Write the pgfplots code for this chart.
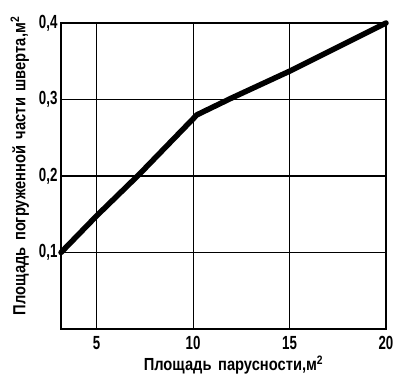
\documentclass[border=0pt]{standalone}
\usepackage{fontspec}
\setmainfont[FakeStretch=0.84, WordSpace=1.6]{Liberation Sans}
\newfontfamily\tickfont[FakeStretch=0.7]{Liberation Sans}
\usepackage{pgfplots}
\pgfplotsset{compat=1.18}
\begin{document}
\begin{tikzpicture}
\begin{axis}[
  scale only axis,
  width=325pt, height=306pt,
  xmin=3.15, xmax=20, ymin=0, ymax=0.4,
  xtick={5,10,15,20}, ytick={0.1,0.2,0.3,0.4},
  yticklabels={{0,1},{0,2},{0,3},{0,4}},
  grid=major,
  major grid style={black, line width=1.1pt},
  axis line style={black, line width=1.5pt},
  major tick length=0pt,
  tick label style={font=\tickfont\fontsize{19}{21}\selectfont\bfseries},
  xticklabel style={yshift=-4pt},
  yticklabel style={xshift=0pt},
  /pgf/number format/assume math mode=true,
  xlabel={Площадь парусности,м\textsuperscript{2}},
  ylabel={Площадь погруженной части шверта,м\textsuperscript{2}},
  label style={font=\fontsize{17.5}{19}\selectfont\bfseries},
  xlabel style={yshift=1pt, xshift=10pt},
  ylabel style={yshift=3pt, xshift=10pt},
  clip=false,
]
\addplot[black, line width=5.5pt, line join=round, line cap=round] coordinates {
  (3.15,0.10) (5,0.148) (7.2,0.202) (10.2,0.280) (12,0.302) (15,0.337) (20,0.400)
};
\end{axis}
\path ([xshift=-61pt,yshift=-57pt]current axis.south west) rectangle ([xshift=14pt,yshift=23pt]current axis.north east);
\end{tikzpicture}
\end{document}
